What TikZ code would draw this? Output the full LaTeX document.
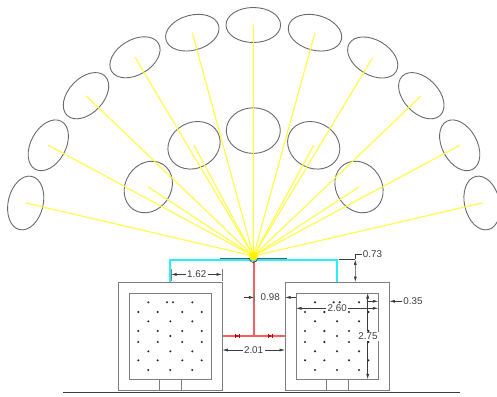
\documentclass[tikz,border=0pt]{standalone}
\usepackage{fontspec}
\setmainfont{Liberation Sans}
\usetikzlibrary{shapes.geometric,arrows.meta,calc}
\definecolor{ellcol}{RGB}{105,105,112}
\definecolor{boxcol}{RGB}{125,125,125}
\definecolor{dimcol}{RGB}{60,60,60}
\definecolor{raycol}{RGB}{255,255,50}
\definecolor{pipecol}{RGB}{250,95,95}
\definecolor{ductcol}{RGB}{40,240,250}
\tikzset{
  outerell/.style={ellipse,draw=ellcol,line width=0.9pt,minimum width=54.6pt,minimum height=35pt,inner sep=0pt},
  innerell/.style={ellipse,draw=ellcol,line width=0.9pt,minimum width=54pt,minimum height=45.6pt,inner sep=0pt},
  ray/.style={raycol,line width=1pt},
  wall/.style={draw=boxcol,line width=1pt,inner sep=0pt},
  dimtext/.style={text=dimcol,font=\fontsize{9.8}{10}\selectfont,inner sep=1.2pt},
  dimline/.style={dimcol,line width=0.6pt},
  dimarrow/.style={dimline,-{Latex[length=5.5pt,width=3pt]}},
  exttick/.style={boxcol,line width=0.7pt},
  duct/.style={ductcol,line width=2pt},
  pipe/.style={pipecol,line width=2pt},
  reddim/.style={red!75!black,line width=0.5pt},
  seed/.style={circle,fill=black!85,inner sep=0pt,minimum size=2.3pt}
}
\begin{document}
\begin{tikzpicture}[x=1pt,y=-1pt]
\useasboundingbox (0,0) rectangle (497,396);

% sun
\coordinate (sunc) at (253.4,256);
% outer ring
\node[outerell,rotate=76.9]  (o1) at (25.7,203) {};
\node[outerell,rotate=61.6]  (o2) at (48.3,145.3) {};
\node[outerell,rotate=46.2]  (o3) at (86,95.7) {};
\node[outerell,rotate=30.8]  (o4) at (135,57.3) {};
\node[outerell,rotate=15.3]  (o5) at (192.3,32.7) {};
\node[outerell]              (o6) at (253.3,25) {};
\node[outerell,rotate=-15.3] (o7) at (315,32.7) {};
\node[outerell,rotate=-30.8] (o8) at (372.7,57.5) {};
\node[outerell,rotate=-46.2] (o9) at (421.3,95.7) {};
\node[outerell,rotate=-61.6] (o10) at (459.7,145.3) {};
\node[outerell,rotate=-76.9] (o11) at (482,203) {};
% inner ring
\node[innerell,rotate=56.7]  (i1) at (148.3,187) {};
\node[innerell,rotate=28.2]  (i2) at (194,145.3) {};
\node[innerell]              (i3) at (253.3,130.6) {};
\node[innerell,rotate=-28.2] (i4) at (313.7,145.3) {};
\node[innerell,rotate=-56.7] (i5) at (359,187) {};

\foreach \n in {o1,o2,o3,o4,o5,o6,o7,o8,o9,o10,o11,i1,i2,i3,i4,i5}
  \draw[ray] (\n.center) -- (sunc);

% ground
\coordinate (gl) at (63.3,392.5);
\coordinate (gr) at (460,392.5);
\draw[dimcol,line width=0.9pt] (gl) -- (gr);

% housings
\node[wall,minimum width=104.3pt,minimum height=108pt] (lo) at (170.15,336.2) {};
\node[wall,minimum width=82pt,minimum height=86.3pt]   (li) at (170.3,336.15) {};
\node[wall,minimum width=104.3pt,minimum height=108pt] (ro) at (337.15,336.2) {};
\node[wall,minimum width=82.3pt,minimum height=86.3pt] (ri) at (337.15,336.15) {};
\foreach \b/\xa/\xb in {l/159.3/181.3,r/326/348}{
  \draw[boxcol,line width=1pt] (\xa,379.3) -- (\xa,390.2);
  \draw[boxcol,line width=1pt] (\xb,379.3) -- (\xb,390.2);
}

% seeds
\foreach \ox in {0,166.7}{
  \foreach \zx/\zy in {145/187,201/187,219/187,277/187,
    115/216,173/216,247/216,305/216,
    145/244,211/244,277/244,
    115/273,173/273,247/273,305/273,
    211/288,
    115/306,173/306,247/306,305/306,
    145/334,211/334,277/334,
    115/361,173/361,247/361,305/361,
    145/390,211/390,277/390}{
    \node[seed] at ({100+\zx/3+\ox},{240+\zy/3}) {};
  }
}

% ducts
\coordinate (dl) at (170,282);
\coordinate (dr) at (337.3,282);
\draw[duct] (dl) -- (170,260.4) -- (337.3,260.4) -- (dr);
\coordinate (hl) at (220,258.6);
\coordinate (hr) at (287,258.6);
\draw[boxcol!70!black,line width=1.1pt] (hl) -- (hr);

% pipes
\coordinate (pt) at (253.7,261);
\coordinate (pb) at (253.7,336);
\draw[pipe] (pt) -- (pb);
\draw[pipe] (lo.east |- pb) -- (ro.west |- pb);

% sun disc
\draw[dimcol,line width=0.6pt] (249.4,258.5) arc[start angle=180,end angle=0,radius=4];
\node[circle,fill=yellow,inner sep=0pt,minimum size=9pt] (sun) at (sunc) {};

% small red dimension marks
\foreach \x in {237,270}{
  \draw[reddim] (\x-2.2,333.6) -- (\x-2.2,338.4);
  \draw[reddim] (\x+2.2,333.6) -- (\x+2.2,338.4);
  \fill[red!75!black] (\x-2.2,336) -- (\x,335) -- (\x,337) -- cycle;
  \fill[red!75!black] (\x+2.2,336) -- (\x,335) -- (\x,337) -- cycle;
}

% 1.62
\node[dimtext] (d162) at (196.7,274.4) {1.62};
\coordinate (a162l) at (171,274.4);
\coordinate (a162r) at (222,274.4);
\draw[exttick] (171,269) -- (171,281);
\draw[exttick] (222,269) -- (222,281);
\draw[dimarrow] (d162.west) -- (a162l);
\draw[dimarrow] (d162.east) -- (a162r);

% 0.98
\node[dimtext] (d098) at (270.2,297.4) {0.98};
\coordinate (a098l) at (254.4,297.4);
\coordinate (t098l) at (244,297.4);
\coordinate (a098r) at (285,297.4);
\coordinate (t098r) at (296,297.4);
\draw[dimarrow] (t098l) -- (a098l);
\draw[dimarrow] (t098r) -- (a098r);
\draw[exttick] (254.8,293) -- (254.8,302);

% 2.01
\node[dimtext] (d201) at (253.6,350) {2.01};
\coordinate (a201l) at (222.3,350);
\coordinate (a201r) at (285,350);
\draw[dimarrow] (d201.west) -- (a201l);
\draw[dimarrow] (d201.east) -- (a201r);

% 0.73
\node[dimtext] (d073) at (372.5,254.2) {0.73};
\coordinate (a073c) at (355.3,254.2);
\coordinate (a073t) at (355.3,259.4);
\coordinate (a073b) at (355.3,282);
\coordinate (a073e) at (338.5,259.4);
\draw[dimline] (a073e) -- (a073t);
\draw[dimline] (d073.west) -- (a073c) -- (a073t);
\draw[dimarrow] ($(a073t)!0.5!(a073b)$) -- (a073t);
\draw[dimarrow] ($(a073t)!0.5!(a073b)$) -- (a073b);

% 0.35
\node[dimtext,anchor=west] (d035) at (402,301.3) {0.35};
\coordinate (a035o) at (389.3,301.3);
\coordinate (a035i) at (378.3,301.3);
\coordinate (t035) at (368,301.3);
\draw[dimarrow] (d035.west) -- (a035o);
\draw[dimarrow] (t035) -- (a035i);

% 2.60
\node[dimtext] (d260) at (337.2,308.3) {2.60};
\coordinate (a260l) at (296,308.3);
\coordinate (a260r) at (378.3,308.3);
\draw[dimarrow] (d260.west) -- (a260l);
\draw[dimarrow] (d260.east) -- (a260r);

% 2.75
\node[dimtext,fill=white] (d275) at (368,336.2) {2.75};
\coordinate (a275t) at (367.7,293);
\coordinate (a275b) at (367.7,379.3);
\draw[dimarrow] (d275.north -| a275t) -- (a275t);
\draw[dimarrow] (d275.south -| a275b) -- (a275b);
\end{tikzpicture}
\end{document}
